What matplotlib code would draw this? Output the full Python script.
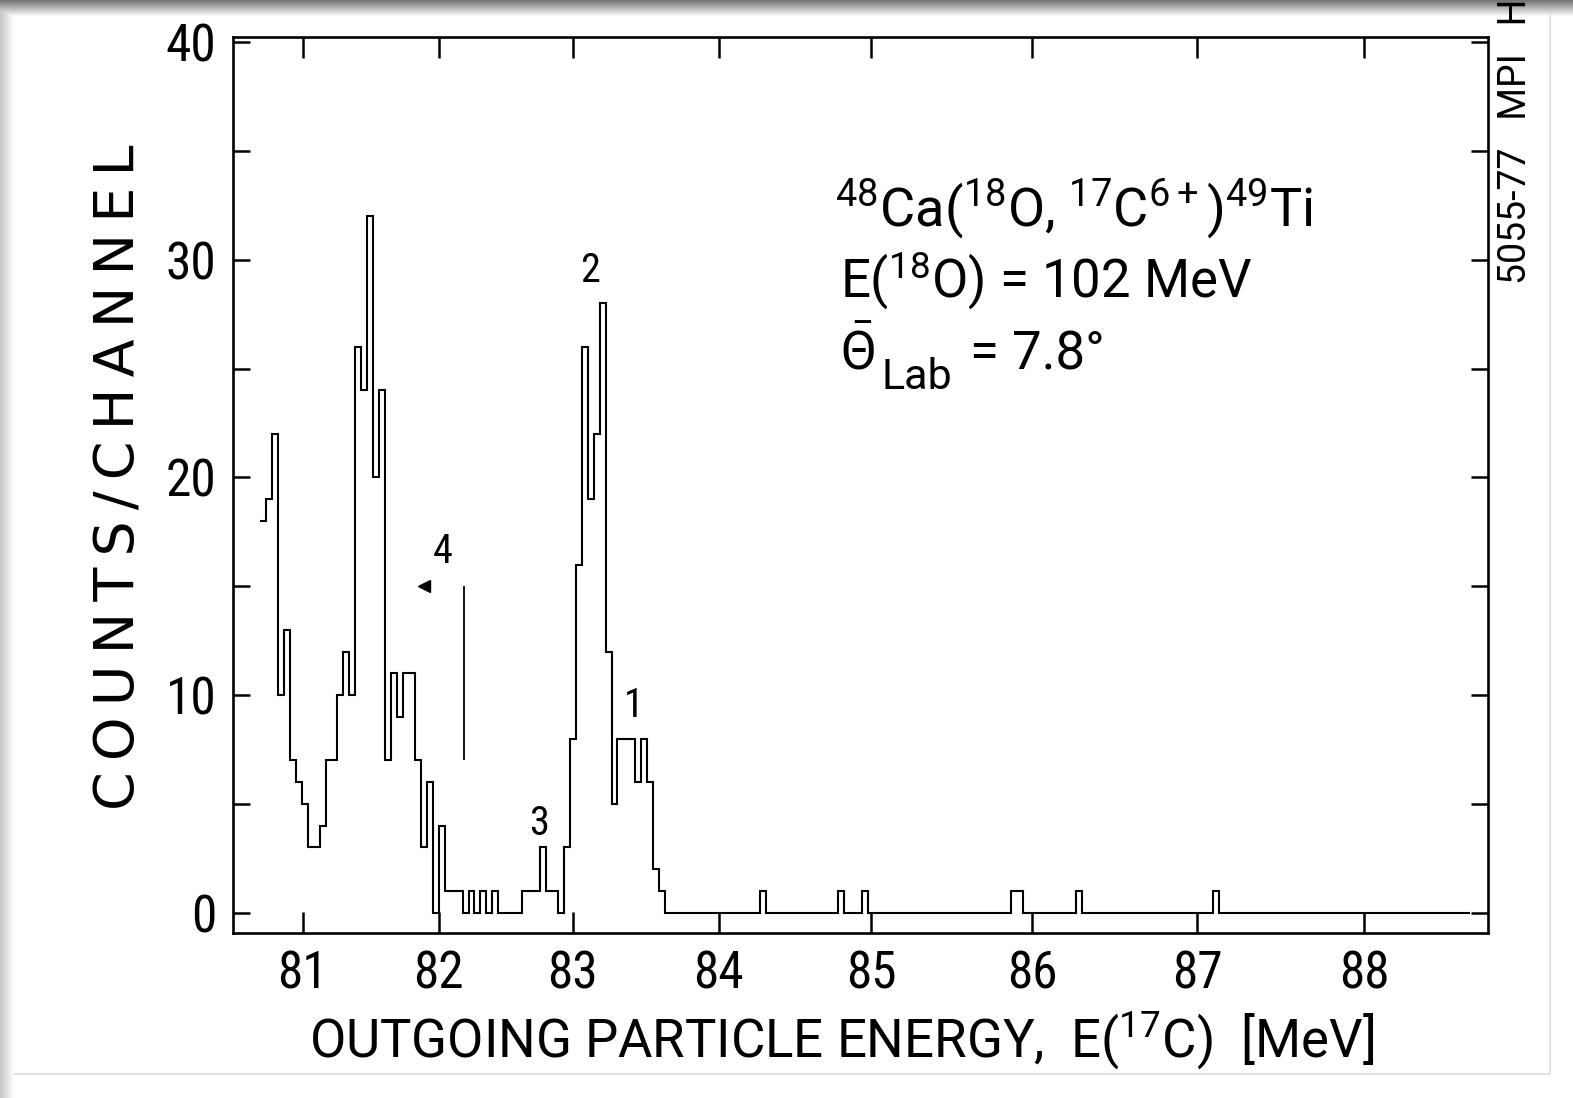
import numpy as np
import matplotlib
matplotlib.use("Agg")
import matplotlib.pyplot as plt
from matplotlib import font_manager

# ---- spectrum: counts per channel (channel 0 = first recorded channel) ----
peak_counts = [18, 19, 22, 10, 13, 7, 6, 5, 3, 3,
               4, 7, 7, 10, 12, 10, 26, 24, 32, 20,
               24, 7, 11, 9, 11, 11, 7, 3, 6, 0,
               4, 1, 1, 1, 0, 1, 0, 1, 0, 1,
               0, 0, 0, 0, 1, 1, 1, 3, 1, 1,
               0, 3, 8, 16, 26, 19, 22, 28, 12, 5,
               8, 8, 8, 6, 8, 6, 2, 1]
n_channels = 203
single_count_channels = [84, 97, 101, 126, 127, 137, 160]

# energy calibration: channel positions of the labelled energies (MeV)
energy_ticks = [81, 82, 83, 84, 85, 86, 87, 88]
energy_tick_channels = [7.2, 30.0, 52.5, 77.0, 102.6, 129.6, 157.3, 185.3]

count_ticks_major = [0, 10, 20, 30, 40]
count_ticks_minor = [5, 15, 25, 35]

# identified final states of 49Ti
state_labels = ['1', '2', '3', '4']
state_label_channels = [62.8, 55.4, 46.8, 30.6]
state_label_counts = [9.5, 29.5, 4.1, 16.6]
# state 4: expected position marker and arrow
state4_marker_channel = 34.3
state4_marker_range = [7, 15]
state4_arrow = [27.6, 15]

# ---- fonts ----
names = {f.name for f in font_manager.fontManager.ttflist}
TICK_FONT = 'Roboto Condensed' if 'Roboto Condensed' in names else 'Roboto'
TEXT_FONT = 'Roboto'
plt.rcParams['font.family'] = [TEXT_FONT, 'DejaVu Sans']
plt.rcParams['mathtext.fontset'] = 'custom'
plt.rcParams['mathtext.rm'] = TEXT_FONT
plt.rcParams['mathtext.it'] = TEXT_FONT
plt.rcParams['mathtext.bf'] = TEXT_FONT
plt.rcParams['mathtext.default'] = 'regular'

W, H = 1573, 1098
fig = plt.figure(figsize=(W / 100, H / 100), dpi=100)
fig.patch.set_facecolor('white')

# soft grey page edge along the top and left of the scan
bg = fig.add_axes([0, 0, 1, 1], zorder=-10)
bg.set_axis_off()
yy, xx = np.mgrid[0:H, 0:W]
shade = np.ones((H, W))
shade = np.minimum(shade, 0.45 + 0.55 * np.clip(yy / 16.0, 0, 1))
shade = np.minimum(shade, 0.78 + 0.22 * np.clip(xx / 14.0, 0, 1))
shade[H - 25:H - 23, 14:W - 22] = np.minimum(shade[H - 25:H - 23, 14:W - 22], 0.88)
shade[0:H - 23, W - 24:W - 22] = np.minimum(shade[0:H - 23, W - 24:W - 22], 0.88)
bg.imshow(shade, cmap='gray', vmin=0, vmax=1, extent=[0, 1, 0, 1],
          aspect='auto', interpolation='bilinear')
bg.set_xlim(0, 1)
bg.set_ylim(0, 1)

left_px, right_px, top_px, bottom_px = 233, 1488, 37, 933
ax = fig.add_axes([left_px / W, (H - bottom_px) / H,
                   (right_px - left_px) / W, (bottom_px - top_px) / H])
ax.set_facecolor('none')


def ax_x(px):
    return (px - left_px) / (right_px - left_px)


def ax_y(py):
    return (bottom_px - py) / (bottom_px - top_px)


counts = np.zeros(n_channels)
counts[:len(peak_counts)] = peak_counts
counts[single_count_channels] = 1
edges = np.arange(n_channels + 1)
ax.stairs(counts, edges, baseline=None, color='black', lw=1.5)

ax.set_xlim(-4.53, 206.1)
ax.set_ylim(-0.94, 40.25)

for s in ax.spines.values():
    s.set_linewidth(1.9)
    s.set_color('black')

ax.set_xticks(energy_tick_channels)
ax.set_xticklabels([str(e) for e in energy_ticks])
ax.set_yticks(count_ticks_major)
ax.set_yticklabels([str(c) for c in count_ticks_major])
ax.set_yticks(count_ticks_minor, minor=True)
ax.tick_params(axis='x', which='major', direction='in', length=15, width=1.8,
               top=True, labelsize=37, pad=12)
ax.tick_params(axis='y', which='both', direction='in', length=12, width=1.8,
               right=True, labelsize=37, pad=12)
ax.tick_params(axis='x', which='minor', bottom=False, top=False)
for lab in ax.get_xticklabels() + ax.get_yticklabels():
    lab.set_family([TICK_FONT, 'DejaVu Sans'])

ax.set_xlabel(r'OUTGOING PARTICLE ENERGY,  E($^{17}$C)  [MeV]', fontsize=38)
ax.xaxis.label.set_va('baseline')
ax.xaxis.set_label_coords(ax_x(842), ax_y(1057))
ax.set_ylabel('\u2009'.join('COUNTS/CHANNEL'), fontsize=40,
              family=['DejaVu Sans'])
ax.yaxis.label.set_va('center')
ax.yaxis.set_label_coords(ax_x(120), ax_y(477))

# reaction, beam energy and mean lab angle
ax.text(ax_x(835), ax_y(210), r'$^{48}$Ca($^{18}$O, $^{17}$C$^{6+}$)$^{49}$Ti',
        transform=ax.transAxes, fontsize=39, ha='left', va='center')
ax.text(ax_x(840), ax_y(281), r'E($^{18}$O) = 102 MeV',
        transform=ax.transAxes, fontsize=38, ha='left', va='center')
ax.text(ax_x(840), ax_y(370), r'$\bar{\Theta}$',
        transform=ax.transAxes, fontsize=38, ha='left', va='baseline')
ax.text(ax_x(881), ax_y(389), 'Lab',
        transform=ax.transAxes, fontsize=31, ha='left', va='baseline')
ax.text(ax_x(970), ax_y(370), '= 7.8°',
        transform=ax.transAxes, fontsize=38, ha='left', va='baseline')

for lab, ch, c in zip(state_labels, state_label_channels, state_label_counts):
    ax.text(ch, c, lab, fontsize=29, ha='center', va='center',
            family=[TICK_FONT, 'DejaVu Sans'])

ax.vlines(state4_marker_channel, *state4_marker_range, color='black', lw=1.3)
ax.plot([state4_arrow[0]], [state4_arrow[1]], marker='<', ms=9,
        color='black', mec='black')

fig.text(1515 / W, 1 - 284 / H, '5055-77   MPI   H', rotation=90,
         fontsize=27, ha='center', va='bottom')

fig.savefig('out.png', dpi=100, facecolor='white')
